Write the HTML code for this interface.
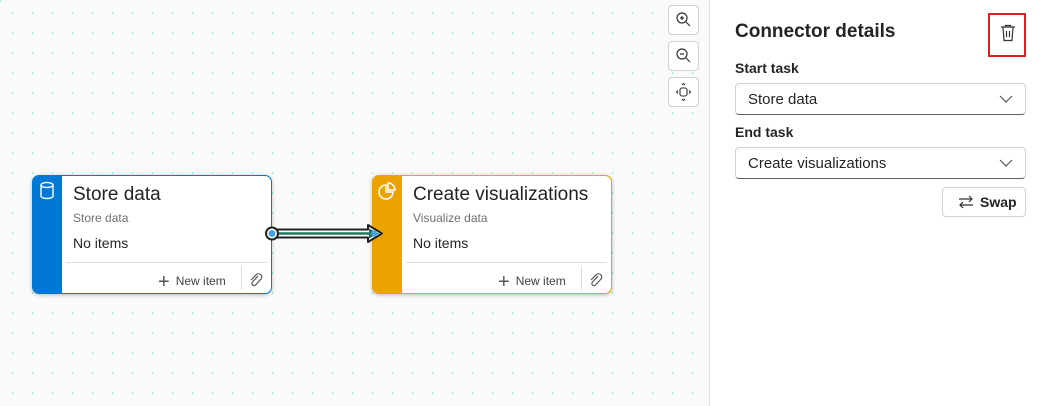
<!DOCTYPE html>
<html><head><meta charset="utf-8"><style>
*{box-sizing:border-box;margin:0;padding:0}
body{width:1040px;height:406px;overflow:hidden;background:#fafafa;font-family:"Liberation Sans",sans-serif;position:relative;color:#242424}
.dots{position:absolute;left:0;top:0;width:709px;height:406px;
background-image:linear-gradient(#b5e6d8,#b5e6d8);background-size:1px 2px;background-repeat:no-repeat}
.card{position:absolute;top:175px;width:240px;height:119px;background:#fff;border-radius:7px;box-shadow:0 1px 4px rgba(0,0,0,.25);overflow:hidden}
.bar{position:absolute;left:0;top:0;bottom:0;width:29px}
.title{position:absolute;left:40px;top:8px;font-size:19px;color:#242424}
.sub{position:absolute;left:40px;top:35px;font-size:12px;color:#707070}
.no{position:absolute;left:40px;top:59px;font-size:14px;color:#242424}
.hr{position:absolute;left:33px;right:4px;top:86px;border-top:1px solid #ddd}
.ni{position:absolute;left:125px;top:95px;font-size:12px;color:#424242}
.ni b{font-weight:normal;font-size:20px;vertical-align:-3px;margin-right:6px;color:#555}
.vs{position:absolute;left:208px;top:90px;height:24px;border-left:1px solid #ddd}
.clip{position:absolute;left:216px;top:96px}
.zb{position:absolute;left:668px;width:31px;height:30px;border:1px solid #d1d1d1;border-radius:4px;background:#fff}
.panel{position:absolute;left:709px;top:0;width:331px;height:406px;background:#fff;border-left:1px solid #e0e0e0}
.lbl{position:absolute;left:25px;font-size:14px;font-weight:bold;color:#242424}
.sel{position:absolute;left:25px;width:291px;height:32px;border:1px solid #d1d1d1;border-bottom-color:#616161;border-radius:4px;font-size:15px;padding:7px 12px;color:#242424}
.sel svg{position:absolute;right:12px;top:11px}
</style></head><body>
<svg class="dots" width="709" height="406">
 <defs><pattern id="p" width="20" height="20" patternUnits="userSpaceOnUse" x="0" y="0"><rect x="12" y="12" width="1" height="2" fill="#a6e0cf"/></pattern></defs>
 <rect width="709" height="406" fill="url(#p)"/>
</svg>

<div class="card" style="left:32px;border:1px solid #0078d4">
 <div class="bar" style="background:#0078d4"></div>
 <svg style="position:absolute;left:5px;top:5px" width="18" height="20" viewBox="0 0 18 20" fill="none" stroke="#fff" stroke-width="1.4"><ellipse cx="9" cy="4" rx="6" ry="2.5"/><path d="M3 4v11c0 1.4 2.7 2.5 6 2.5s6-1.1 6-2.5V4"/></svg>
 <div class="title">Store data</div>
 <div class="sub">Store data</div>
 <div class="no">No items</div>
 <div class="hr"></div>
 <div class="ni"><b>+</b>New item</div>
 <div class="vs"></div>
 <svg class="clip" width="14" height="16" viewBox="0 0 14 16" fill="none" stroke="#555" stroke-width="1.2"><path d="M9 4L3.5 10a2 2 0 0 0 3 3L12 7a3.2 3.2 0 0 0-4.5-4.5L2 8"/></svg>
</div>

<div class="card" style="left:372px;border:1px solid #eaa300">
 <div class="bar" style="background:#eaa300"></div>
 <svg style="position:absolute;left:4px;top:5px" width="20" height="20" viewBox="0 0 20 20" fill="none" stroke="#fff" stroke-width="1.5"><path d="M9 4a7 7 0 1 0 7 7H9z"/><path d="M11 2a7 7 0 0 1 7 7h-7z"/></svg>
 <div class="title">Create visualizations</div>
 <div class="sub">Visualize data</div>
 <div class="no">No items</div>
 <div class="hr"></div>
 <div class="ni"><b>+</b>New item</div>
 <div class="vs"></div>
 <svg class="clip" width="14" height="16" viewBox="0 0 14 16" fill="none" stroke="#555" stroke-width="1.2"><path d="M9 4L3.5 10a2 2 0 0 0 3 3L12 7a3.2 3.2 0 0 0-4.5-4.5L2 8"/></svg>
</div>

<svg style="position:absolute;left:260px;top:220px" width="130" height="28">
 <path d="M12 9.5H108V5L122 13.5L108 22V17.5H12Z" fill="#fff" stroke="#222" stroke-width="2" stroke-linejoin="round"/>
 <path d="M12 12.3H112V14.7H12Z" fill="#1a7a60"/>
 <path d="M109 8.5L119 13.5L109 18.5Z" fill="#1a7a60"/>
 <circle cx="12" cy="13.5" r="6" fill="#fff" stroke="#222" stroke-width="2"/>
 <circle cx="12" cy="13.5" r="3.5" fill="#4aa3df"/>
 <circle cx="114" cy="13.5" r="3" fill="#4aa3df"/>
</svg>

<div class="zb" style="top:5px"><svg width="29" height="28" viewBox="0 0 29 28" fill="none" stroke="#333" stroke-width="1.2"><circle cx="13" cy="12" r="5"/><path d="M17 16l4 4M11 12h4M13 10v4"/></svg></div>
<div class="zb" style="top:41px"><svg width="29" height="28" viewBox="0 0 29 28" fill="none" stroke="#333" stroke-width="1.2"><circle cx="13" cy="12" r="5"/><path d="M17 16l4 4M11 12h4"/></svg></div>
<div class="zb" style="top:77px"><svg width="29" height="28" viewBox="0 0 29 28" fill="none" stroke="#333" stroke-width="1.1"><rect x="11" y="10" width="7" height="8" rx="2"/><path d="M13 7l1.5-1.5L16 7M13 21l1.5 1.5L16 21M9 12.5L7.5 14L9 15.5M20 12.5l1.5 1.5-1.5 1.5"/></svg></div>

<div class="panel">
 <div style="position:absolute;left:25px;top:21px;font-size:19px;font-weight:bold;color:#242424">Connector details</div>
 <div style="position:absolute;left:278px;top:13px;width:38px;height:44px;border:2px solid #e02020"></div>
 <svg style="position:absolute;left:290px;top:23px" width="16" height="20" viewBox="0 0 16 20" fill="none" stroke="#333" stroke-width="1.2"><path d="M1 4h14M5.5 4V2.5h5V4M3 4l1 13.5h8L13 4M6.5 8v6M9.5 8v6"/></svg>
 <div class="lbl" style="top:60px">Start task</div>
 <div class="sel" style="top:83px">Store data<svg width="14" height="8" viewBox="0 0 14 8"><path d="M1 1l6 6 6-6" fill="none" stroke="#555" stroke-width="1.2"/></svg></div>
 <div class="lbl" style="top:124px">End task</div>
 <div class="sel" style="top:147px">Create visualizations<svg width="14" height="8" viewBox="0 0 14 8"><path d="M1 1l6 6 6-6" fill="none" stroke="#555" stroke-width="1.2"/></svg></div>
 <div style="position:absolute;left:232px;top:187px;width:84px;height:30px;border:1px solid #d1d1d1;border-radius:4px;background:#fff">
  <svg style="position:absolute;left:15px;top:7px" width="16" height="14" viewBox="0 0 16 14" fill="none" stroke="#333" stroke-width="1.2"><path d="M1 4h13M11 1l3 3-3 3M15 10H2M5 7l-3 3 3 3"/></svg>
  <span style="position:absolute;left:37px;top:6px;font-size:14px;font-weight:bold">Swap</span></div>
</div>
</body></html>
